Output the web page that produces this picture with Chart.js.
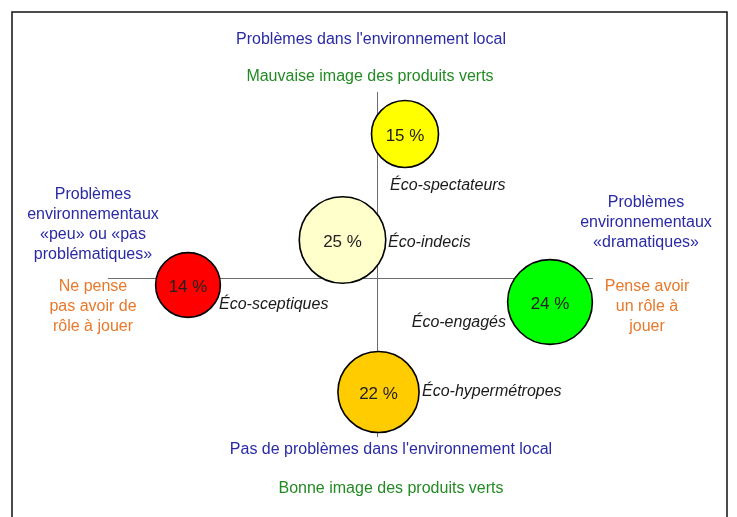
<!DOCTYPE html>
<html>
<head>
<meta charset="utf-8">
<script src="https://cdn.jsdelivr.net/npm/chart.js@4"></script>
<style>
  html, body { margin: 0; padding: 0; background: #fff; }
  #wrap { position: relative; width: 737px; height: 517px; }
</style>
</head>
<body>
<div id="wrap"><canvas id="segChart"></canvas></div>
<script>
// Segments of the map and their share of consumers (%)
const segments = ['Éco-spectateurs', 'Éco-indecis', 'Éco-sceptiques', 'Éco-engagés', 'Éco-hypermétropes'];
const shares = [15, 25, 14, 24, 22];
// position on the two axes (x: role / gravity, y: local problems)
const posX = [0.28, -0.345, -1.89, 1.73, 0.015];
const posY = [1.44, 0.38, -0.07, -0.24, -1.14];

const fills = ['#ffff00', '#ffffcc', '#ff0000', '#00ff00', '#ffcc00'];

// where each segment name sits (data coords) and how it is aligned
const nameAnchors = [
    { x: 0.13, y: 0.92, align: 'left' },
    { x: 0.11, y: 0.35, align: 'left' },
    { x: -1.58, y: -0.27, align: 'left' },
    { x: 1.29, y: -0.45, align: 'right' },
    { x: 0.45, y: -1.14, align: 'left' }
];

const BLUE = '#2a2aa6';
const GREEN = '#238a23';
const ORANGE = '#e8782a';
const FONT = "'Liberation Sans', Arial, sans-serif";

// text around the map, in page pixels
const sideTexts = [
    { lines: ["Problèmes dans l'environnement local"], x: 371, y: 40, color: BLUE },
    { lines: ['Mauvaise image des produits verts'], x: 370, y: 77, color: GREEN },
    { lines: ["Pas de problèmes dans l'environnement local"], x: 391, y: 450, color: BLUE },
    { lines: ['Bonne image des produits verts'], x: 391, y: 489, color: GREEN },
    { lines: ['Problèmes', 'environnementaux', '«peu» ou «pas', 'problématiques»'], x: 93, y: 195, color: BLUE },
    { lines: ['Ne pense', 'pas avoir de', 'rôle à jouer'], x: 93, y: 287, color: ORANGE },
    { lines: ['Problèmes', 'environnementaux', '«dramatiques»'], x: 646, y: 203, color: BLUE },
    { lines: ['Pense avoir', 'un rôle à', 'jouer'], x: 647, y: 287, color: ORANGE }
];

const mapPlugin = {
    id: 'mapDecor',
    beforeDatasetsDraw(chart) {
        const { ctx, chartArea: a, scales: { x, y } } = chart;
        ctx.save();
        // frame
        ctx.strokeStyle = '#111';
        ctx.lineWidth = 1.5;
        ctx.beginPath();
        ctx.moveTo(12, 530);
        ctx.lineTo(12, 12);
        ctx.lineTo(727, 12);
        ctx.lineTo(727, 530);
        ctx.stroke();
        // axes crossing at 0,0
        ctx.strokeStyle = '#6e6e6e';
        ctx.lineWidth = 1;
        const x0 = Math.round(x.getPixelForValue(0)) + 0.5;
        const y0 = Math.round(y.getPixelForValue(0)) + 0.5;
        ctx.beginPath();
        ctx.moveTo(x0, a.top);
        ctx.lineTo(x0, a.bottom);
        ctx.moveTo(a.left, y0);
        ctx.lineTo(a.right, y0);
        ctx.stroke();
        ctx.restore();
    },
    afterDatasetsDraw(chart) {
        const { ctx, scales: { x, y } } = chart;
        const meta = chart.getDatasetMeta(0);
        ctx.save();
        ctx.textBaseline = 'middle';
        // percentages inside the bubbles
        ctx.font = '17px ' + FONT;
        ctx.fillStyle = '#222';
        ctx.textAlign = 'center';
        meta.data.forEach((pt, i) => {
            ctx.fillText(shares[i] + ' %', pt.x, pt.y + 2);
        });
        // segment names
        ctx.font = 'italic 16px ' + FONT;
        ctx.fillStyle = '#1a1a1a';
        segments.forEach((name, i) => {
            const an = nameAnchors[i];
            ctx.textAlign = an.align;
            ctx.fillText(name, x.getPixelForValue(an.x), y.getPixelForValue(an.y));
        });
        // surrounding captions
        ctx.font = '16px ' + FONT;
        ctx.textAlign = 'center';
        sideTexts.forEach(t => {
            ctx.fillStyle = t.color;
            t.lines.forEach((ln, k) => ctx.fillText(ln, t.x, t.y + k * 20));
        });
        ctx.restore();
    }
};

new Chart(document.getElementById('segChart'), {
    type: 'bubble',
    data: {
        labels: segments,
        datasets: [{
            data: segments.map((s, i) => ({ x: posX[i], y: posY[i], v: shares[i] })),
            backgroundColor: fills,
            borderColor: '#000',
            borderWidth: 1.6,
            // bubble area proportional to the share
            radius: ctx => 8.65 * Math.sqrt(shares[ctx.dataIndex]),
            clip: false
        }]
    },
    options: {
        responsive: true,
        maintainAspectRatio: false,
        animation: false,
        events: [],
        layout: { padding: { left: 108, right: 144, top: 92, bottom: 80 } },
        plugins: {
            legend: { display: false },
            tooltip: { enabled: false }
        },
        scales: {
            x: { display: false, min: -2.69, max: 2.16 },
            y: { display: false, min: -1.59, max: 1.86 }
        }
    },
    plugins: [mapPlugin]
});
</script>
</body>
</html>
